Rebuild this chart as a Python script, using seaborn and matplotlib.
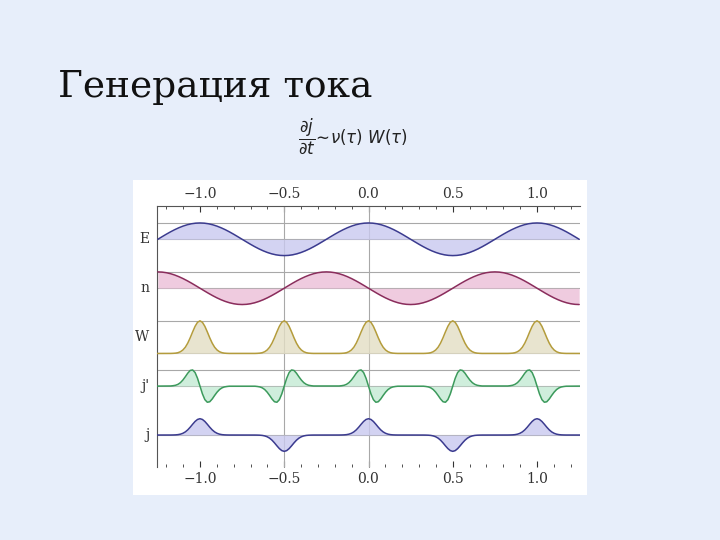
import numpy as np
import pandas as pd
import seaborn as sns
import matplotlib
matplotlib.use('Agg')
from matplotlib import pyplot as plt

sns.set_style('white')
plt.rcParams['font.family'] = ['DejaVu Serif']

# one period of the field wave, sampled every 1/40
wave = [1, .988, .951, .891, .809, .707, .588, .454, .309, .156, 0,
        -.156, -.309, -.454, -.588, -.707, -.809, -.891, -.951, -.988, -1,
        -.988, -.951, -.891, -.809, -.707, -.588, -.454, -.309, -.156, 0,
        .156, .309, .454, .588, .707, .809, .891, .951, .988]
e_shift = 0    # E peaks at 0
n_shift = 10   # n is a quarter period ahead

# pulse shapes, offsets -0.174..0.174 step 0.0145
offsets = [i * 0.0145 for i in range(-12, 13)]
w_half = [1, .955, .832, .662, .48, .317, .191, .106, .053, .024, .01, .004, .001]
w_pulse = w_half[::-1] + w_half[1:]
jp_half = [0, .477, .831, .991, .958, .791, .572, .37, .211, .108, .05, .024, .007]
jp_pulse = jp_half[::-1] + [-v for v in jp_half[1:]]
centers = [-1.0, -0.5, 0.0, 0.5, 1.0]
signs = [1, -1, 1, -1, 1]

rows = ['E', 'n', 'W', "j'", 'j']
baselines = [0, -3, -7, -9, -12]
line_cols = ['#3b3b8f', '#8a2d5c', '#b49c3c', '#3c9a5c', '#3b3b8f']
fill_cols = ['#c9c9ef', '#ebbfd8', '#e3dec4', '#c4ead4', '#c9c9ef']


def wave_row(shift):
    k = np.arange(-50, 51)
    return k / 40, np.array([wave[(i + shift) % 40] for i in k])


def pulse_row(pulse, use_sign):
    xs, ys = [-1.255], [0.0]
    for c, s in zip(centers, signs):
        xs += [c + o for o in offsets]
        ys += [v * (s if use_sign else 1) for v in pulse]
    xs.append(1.255)
    ys.append(0.0)
    return np.array(xs), np.array(ys)


series = [wave_row(e_shift), wave_row(n_shift),
          pulse_row([2 * v for v in w_pulse], False),
          pulse_row(jp_pulse, True), pulse_row(w_pulse, True)]

fig = plt.figure(figsize=(7.2, 5.4), dpi=100)
fig.patch.set_facecolor('#e7eefa')
bg = fig.add_axes([133 / 720, 1 - 495 / 540, 454 / 720, 315 / 540])
bg.set_facecolor('white')
bg.set_xticks([])
bg.set_yticks([])
for s in bg.spines.values():
    s.set_visible(False)

ax = fig.add_axes([157 / 720, 1 - 467 / 540, 423 / 720, 261 / 540])
ax.set_facecolor('none')

for y in [1, 0, -2, -3, -5, -7, -8, -9, -12]:
    ax.axhline(y, color='#a8a8a8', lw=0.8, zorder=1)
for x in [-0.5, 0.0]:
    ax.axvline(x, color='#a8a8a8', lw=0.8, zorder=1)

for name, b, (xs, ys), lc, fc in zip(rows, baselines, series, line_cols, fill_cols):
    df = pd.DataFrame({'x': xs, 'y': ys + b})
    ax.fill_between(df['x'], b, df['y'], color=fc, alpha=0.8, lw=0, zorder=2)
    sns.lineplot(data=df, x='x', y='y', ax=ax, color=lc, lw=1.1, zorder=3)
    ax.text(-1.3, b + (1 if name == 'W' else 0), name, ha='right', va='center',
            fontsize=10, color='#333333')

ax.set_xlim(-1.255, 1.255)
ax.set_ylim(-13.96, 2.04)
ax.set_yticks([])
ax.set_xlabel('')
ax.set_ylabel('')
ticks = [-1.0, -0.5, 0.0, 0.5, 1.0]
ax.set_xticks(ticks)
ax.set_xticklabels(['\u22121.0', '\u22120.5', '0.0', '0.5', '1.0'])
ax.set_xticks([t / 10 for t in range(-12, 13)], minor=True)
ax.tick_params(axis='x', which='both', top=True, bottom=True, labeltop=True,
               labelbottom=True, direction='in', labelsize=10, colors='#333333')
ax.tick_params(axis='x', which='major', length=4)
ax.tick_params(axis='x', which='minor', length=2)
for s in ['right', 'bottom']:
    ax.spines[s].set_visible(False)
for s in ['left', 'top']:
    ax.spines[s].set_color('#555555')
    ax.spines[s].set_linewidth(0.8)

fig.text(58 / 720, 1 - 97 / 540, 'Генерация тока', fontsize=27,
         va='baseline', color='#111111')
fig.text(298 / 720, 1 - 136 / 540,
         r'$\dfrac{\partial j}{\partial t}\!\sim\!\nu(\tau)\ W(\tau)$',
         fontsize=12, va='center', color='#222222')

fig.savefig('out.png', dpi=100)
